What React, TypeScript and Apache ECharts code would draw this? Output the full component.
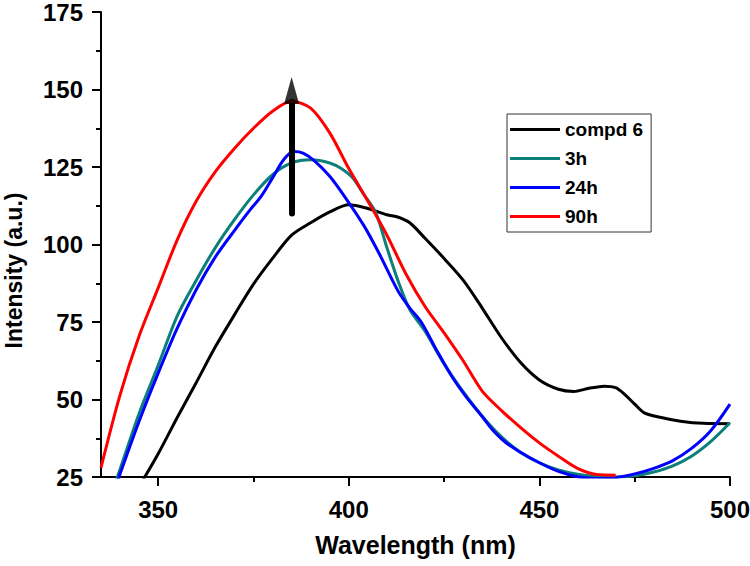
import React, { useEffect, useRef } from "react";
import * as echarts from "echarts";

const seriesNames = ["compd 6", "3h", "24h", "90h"];
const seriesColors = ["#000000", "#0c7f7b", "#0000ff", "#ff0000"];

const compd6: number[][] = [
  [346, 24], [350, 32.5], [355, 44.2], [360, 55.5], [365, 67], [370, 77.3], [375, 87.2],
  [380, 95.5], [385, 103], [390, 107], [395, 110.5], [400, 112.8], [405, 111.6],
  [410, 109.6], [413, 108.8], [416, 107], [420, 102], [425, 95.5], [430, 88.5],
  [435, 79.5], [440, 70], [445, 62], [450, 56.3], [455, 53.3], [459, 52.6], [463, 53.6],
  [467, 54.3], [470, 53.8], [472.5, 51.5], [475, 48.5], [477.5, 45.7], [482, 44.2],
  [487, 43], [493, 42.3], [500, 42.2],
];

const h3: number[][] = [
  [339, 24], [340, 27.5], [345, 45.5], [350, 61], [355, 77], [360, 88.5], [365, 99],
  [370, 108], [375, 116], [380, 122.5], [385, 126.3], [390, 127.3], [395, 126.3],
  [398, 124.5], [401, 121.5], [404, 116], [407, 110.5], [410, 99], [413, 88], [416, 79],
  [420, 72], [425, 61.5], [430, 52.5], [435, 44.6], [440, 38], [445, 33], [450, 29.6],
  [455, 27.3], [460, 25.9], [465, 25.2], [470, 25], [475, 25.4], [480, 26.6], [485, 28.6],
  [490, 31.8], [495, 36.5], [500, 42.5],
];

const h24: number[][] = [
  [339.5, 24], [340, 26], [345, 43], [350, 58.5], [355, 73], [360, 85.5], [365, 96],
  [370, 104.5], [374, 111], [377, 115.5], [380, 121.5], [383, 127.5], [385.6, 130],
  [388, 129.5], [391, 127], [395, 122], [399, 115.3], [404, 106], [408, 97], [413, 84.8],
  [416, 79.5], [419, 75], [423, 66], [427, 57.5], [431, 50.5], [435, 44.5], [437.5, 40.5],
  [441, 36.3], [445, 33], [450, 29.6], [455, 26.8], [460, 25.1], [465, 24.5], [470, 24.8],
  [475, 26], [480, 27.8], [485, 30.3], [490, 34.3], [495, 40], [500, 48.5],
];

const h90: number[][] = [
  [335, 28], [340, 51.5], [345, 70.5], [350, 86], [355, 101.5], [360, 114], [365, 123.5],
  [370, 131], [375, 137.5], [380, 143], [385, 146.2], [390, 144], [395, 136], [400, 124.5],
  [405, 114], [410, 103], [415, 90.5], [420, 80], [425, 71.5], [430, 62.5], [435, 52.7],
  [440, 46.5], [445, 41], [450, 36], [455, 31.7], [460, 27.8], [465, 25.8], [470, 25.6],
];

const seriesData = [compd6, h3, h24, h90];

const xMin = 335;
const xMax = 500;
const xMajorTicks = [350, 400, 450, 500];
const xMinorTicks = [375, 425, 475];
const yMin = 25;
const yMax = 175;
const yInterval = 25;

const arrowX = 385;
const arrowFrom = 110;
const arrowShaftTo = 146;
const arrowHead = [[385, 149.7]];

const FONT = "Liberation Sans, Arial, sans-serif";

export default function App() {
  const ref = useRef<HTMLDivElement>(null);
  useEffect(() => {
    document.body.style.margin = "0";
    const chart = echarts.init(ref.current!, null, { renderer: "svg" });
    const axisLine = { show: true, lineStyle: { color: "#000", width: 2 } };
    const series: any[] = seriesNames.map((name, i) => ({
      name,
      type: "line",
      data: seriesData[i],
      symbol: "none",
      smooth: 0.3,
      clip: true,
      lineStyle: { color: seriesColors[i], width: 3 },
      itemStyle: { color: seriesColors[i] },
      z: 2 + i,
    }));
    series.push({
      name: "arrow",
      type: "line",
      data: [],
      markLine: {
        silent: true,
        symbol: ["none", "none"],
        label: { show: false },
        lineStyle: { color: "#000", width: 6, type: "solid", cap: "round" },
        emphasis: { disabled: true },
        data: [[{ coord: [arrowX, arrowFrom] }, { coord: [arrowX, arrowShaftTo] }]],
      },
      z: 10,
    });
    series.push({
      name: "arrowHead",
      type: "scatter",
      data: arrowHead,
      symbol: "triangle",
      symbolSize: [15, 27],
      itemStyle: { color: "#000" },
      silent: true,
      z: 11,
    });
    chart.setOption({
      animation: false,
      backgroundColor: "#fff",
      textStyle: { fontFamily: FONT },
      grid: { left: 101, top: 12, right: 20, bottom: 89, containLabel: false, outerBoundsMode: "none" },
      legend: {
        data: seriesNames,
        orient: "vertical",
        left: 507,
        top: 114,
        icon: "rect",
        itemWidth: 50,
        itemHeight: 3,
        itemGap: 10,
        padding: [6, 8, 6, 3],
        borderColor: "#333",
        borderWidth: 1,
        textStyle: { fontFamily: FONT, fontSize: 19, fontWeight: "bold", color: "#000", lineHeight: 19 },
      },
      xAxis: [
        {
          type: "value",
          min: xMin,
          max: xMax,
          position: "bottom",
          name: "Wavelength (nm)",
          nameLocation: "middle",
          nameGap: 55,
          nameTextStyle: { fontFamily: FONT, fontSize: 25, fontWeight: "bold", color: "#000" },
          axisLine,
          axisTick: { show: true, length: 9, customValues: xMajorTicks, lineStyle: { color: "#000", width: 2 } },
          axisLabel: {
            customValues: xMajorTicks,
            fontFamily: FONT,
            fontSize: 24,
            fontWeight: "bold",
            color: "#000",
            margin: 20,
          },
          splitLine: { show: false },
        },
        {
          type: "value",
          min: xMin,
          max: xMax,
          position: "bottom",
          axisLine: { show: false },
          axisTick: { show: true, length: 5, customValues: xMinorTicks, lineStyle: { color: "#000", width: 2 } },
          axisLabel: { show: false },
          splitLine: { show: false },
        },
      ],
      yAxis: {
        type: "value",
        min: yMin,
        max: yMax,
        interval: yInterval,
        name: "Intensity (a.u.)",
        nameLocation: "middle",
        nameGap: 76,
        nameTextStyle: {
          fontFamily: FONT,
          fontSize: 23,
          fontWeight: "bold",
          color: "#000",
          padding: [0, 52, 0, 0],
        },
        axisLine,
        axisTick: { show: true, length: 9, lineStyle: { color: "#000", width: 2 } },
        minorTick: { show: true, splitNumber: 2, length: 5, lineStyle: { color: "#000", width: 2 } },
        axisLabel: { fontFamily: FONT, fontSize: 24, fontWeight: "bold", color: "#000", margin: 18 },
        splitLine: { show: false },
        minorSplitLine: { show: false },
      },
      series,
    });
    return () => chart.dispose();
  }, []);
  return <div ref={ref} style={{ width: 750, height: 566, position: "absolute", left: 0, top: 0 }} />;
}
